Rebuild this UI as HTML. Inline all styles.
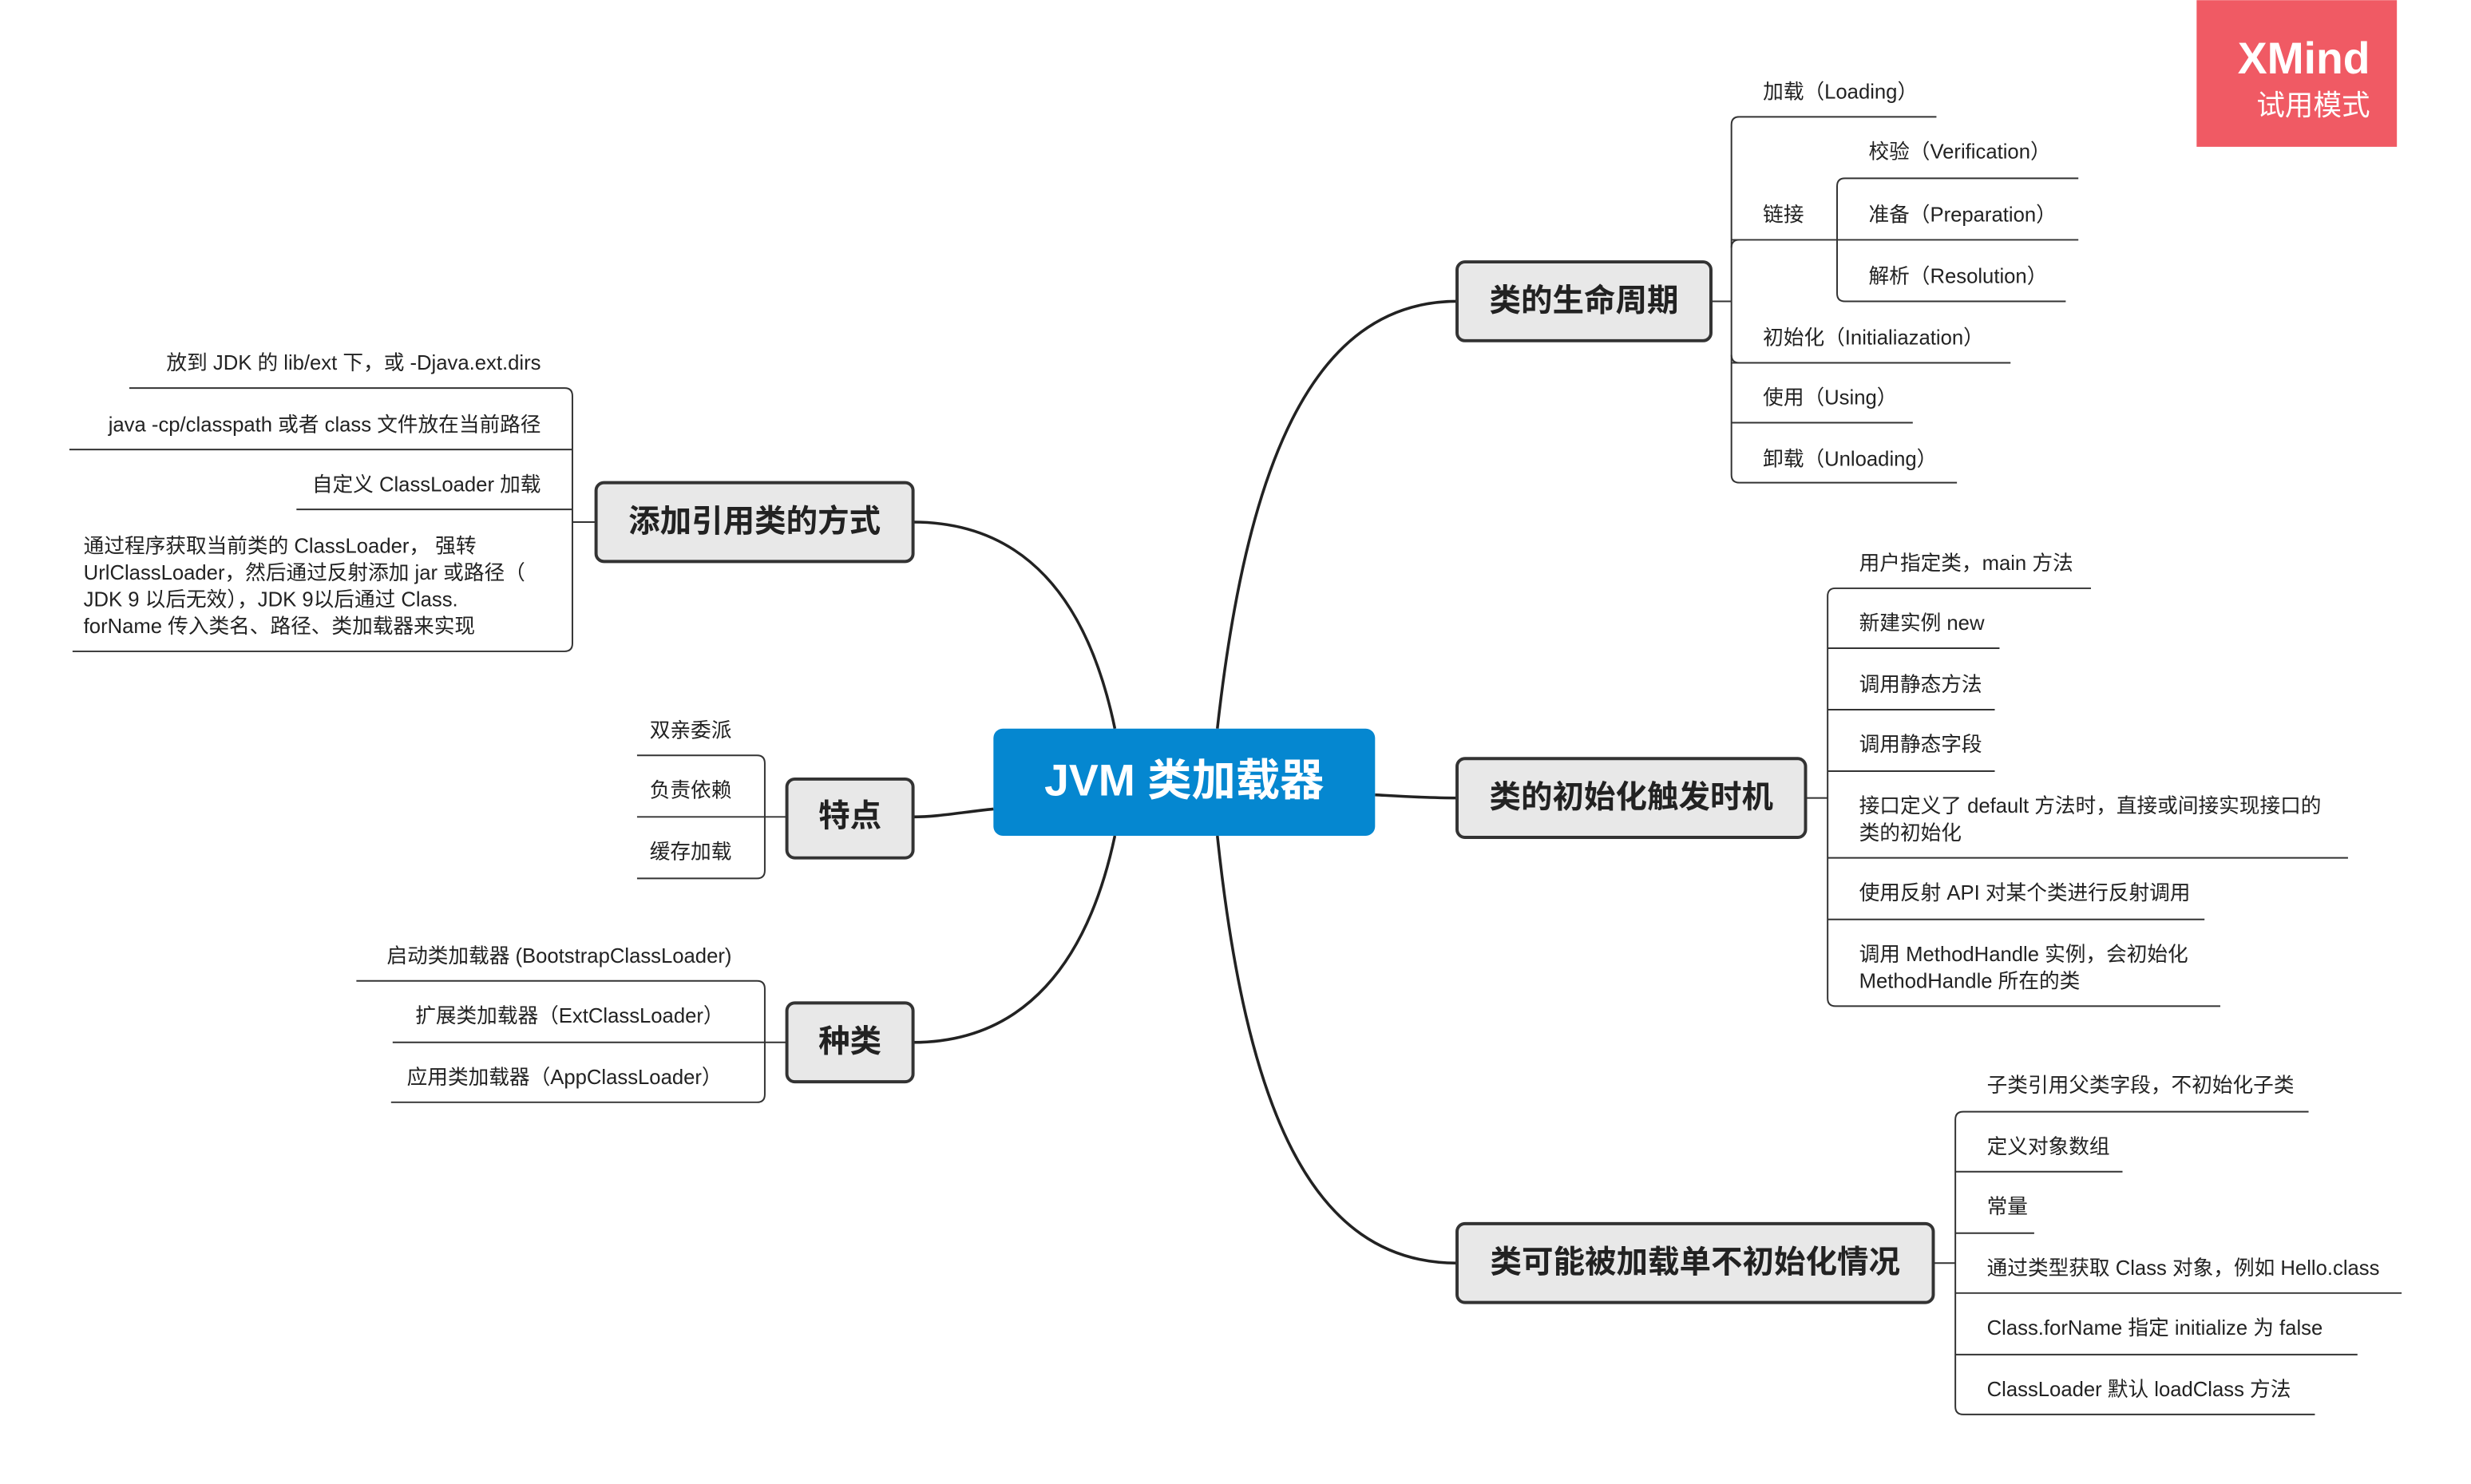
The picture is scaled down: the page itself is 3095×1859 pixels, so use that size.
<!DOCTYPE html>
<html><head><meta charset="utf-8"><style>
html,body{margin:0;padding:0;background:#fff;}
svg{display:block;}
text{font-family:"Liberation Sans","Noto Sans CJK SC",sans-serif;fill:#222;dominant-baseline:middle;}
.s{font-size:13px;}
.b{font-size:20px;font-weight:bold;text-anchor:middle;}
.l{stroke:#333;stroke-width:1;fill:none;}
.c{stroke:#222;stroke-width:1.8;fill:none;}
.n{fill:#e8e8e8;stroke:#333;stroke-width:2;}
.r{text-anchor:end;}
</style></head><body>
<svg width="3095" height="1859" viewBox="0 0 1567 941" xmlns="http://www.w3.org/2000/svg">
<path class="c" d="M772,462 C790,300 830,191 924,191"/>
<path class="c" d="M872,504 C890,505 905,506 924,506"/>
<path class="c" d="M772,530 C790,700 830,801 924,801"/>
<path class="c" d="M707,462 C690,380 650,331 579,331"/>
<path class="c" d="M630,513 C610,515 595,518 579,518"/>
<path class="c" d="M707,530 C690,610 650,661 579,661"/>

<rect x="630" y="462" width="242" height="68" rx="6" fill="#0587d0"/>
<text x="751" y="497" style="font-size:28px;font-weight:bold;fill:#fff;text-anchor:middle">JVM 类加载器</text>

<rect class="n" x="924" y="166" width="161" height="50" rx="5"/><text class="b" x="1004.5" y="192">类的生命周期</text>
<rect class="n" x="924" y="481" width="221" height="50" rx="5"/><text class="b" x="1034.5" y="507">类的初始化触发时机</text>
<rect class="n" x="924" y="776" width="302" height="50" rx="5"/><text class="b" x="1075" y="802">类可能被加载单不初始化情况</text>
<rect class="n" x="378" y="306" width="201" height="50" rx="5"/><text class="b" x="478.5" y="332">添加引用类的方式</text>
<rect class="n" x="499" y="494" width="80" height="50" rx="5"/><text class="b" x="539" y="519">特点</text>
<rect class="n" x="499" y="636" width="80" height="50" rx="5"/><text class="b" x="539" y="662">种类</text>

<path class="l" d="M1085,191 H1098 M1103,74 Q1098,74 1098,79 V301 Q1098,306 1103,306"/>
<path class="l" d="M1103,74 H1228 M1103,152 Q1098,152 1098,157 M1098,152 H1165 M1170,113 Q1165,113 1165,118 V186 Q1165,191 1170,191 M1170,113 H1318 M1165,152 H1318 M1170,191 H1310 M1103,230 Q1098,230 1098,225 M1098,230 H1275 M1098,268 H1213 M1103,306 H1241"/>
<text class="s" x="1118" y="59">加载（Loading）</text>
<text class="s" x="1118" y="137">链接</text>
<text class="s" x="1185" y="97">校验（Verification）</text>
<text class="s" x="1185" y="137">准备（Preparation）</text>
<text class="s" x="1185" y="176">解析（Resolution）</text>
<text class="s" x="1118" y="215">初始化（Initialiazation）</text>
<text class="s" x="1118" y="253">使用（Using）</text>
<text class="s" x="1118" y="292">卸载（Unloading）</text>

<path class="l" d="M1145,506 H1159 M1164,373 Q1159,373 1159,378 V633 Q1159,638 1164,638 M1164,373 H1326 M1159,411 H1268 M1159,450 H1265 M1159,489 H1265 M1159,544 H1489 M1159,583 H1398 M1164,638 H1408"/>
<text class="s" x="1179" y="358">用户指定类，main 方法</text>
<text class="s" x="1179" y="396">新建实例 new</text>
<text class="s" x="1179" y="435">调用静态方法</text>
<text class="s" x="1179" y="473">调用静态字段</text>
<text class="s" x="1179" y="512">接口定义了 default 方法时，直接或间接实现接口的</text>
<text class="s" x="1179" y="529">类的初始化</text>
<text class="s" x="1179" y="567">使用反射 API 对某个类进行反射调用</text>
<text class="s" x="1179" y="606">调用 MethodHandle 实例，会初始化</text>
<text class="s" x="1179" y="623">MethodHandle 所在的类</text>

<path class="l" d="M1226,801 H1240 M1245,705 Q1240,705 1240,710 V892 Q1240,897 1245,897 M1245,705 H1464 M1240,743 H1346 M1240,782 H1290 M1240,820 H1523 M1240,859 H1495 M1245,897 H1468"/>
<text class="s" x="1260" y="689">子类引用父类字段，不初始化子类</text>
<text class="s" x="1260" y="728">定义对象数组</text>
<text class="s" x="1260" y="766">常量</text>
<text class="s" x="1260" y="805">通过类型获取 Class 对象，例如 Hello.class</text>
<text class="s" x="1260" y="843">Class.forName 指定 initialize 为 false</text>
<text class="s" x="1260" y="882">ClassLoader 默认 loadClass 方法</text>

<path class="l" d="M378,331 H363 M358,246 Q363,246 363,251 V408 Q363,413 358,413 M82,246 H358 M44,285 H363 M188,323 H363 M46,413 H358"/>
<text class="s r" x="343" y="231">放到 JDK 的 lib/ext 下，或 -Djava.ext.dirs</text>
<text class="s r" x="343" y="270">java -cp/classpath 或者 class 文件放在当前路径</text>
<text class="s r" x="343" y="308">自定义 ClassLoader 加载</text>
<text class="s" x="53" y="347">通过程序获取当前类的 ClassLoader， 强转</text>
<text class="s" x="53" y="364">UrlClassLoader，然后通过反射添加 jar 或路径（</text>
<text class="s" x="53" y="381">JDK 9 以后无效），JDK  9以后通过 Class.</text>
<text class="s" x="53" y="398">forName 传入类名、路径、类加载器来实现</text>

<path class="l" d="M499,518 H485 M480,479 Q485,479 485,484 V552 Q485,557 480,557 M404,479 H480 M404,518 H485 M404,557 H480"/>
<text class="s" x="412" y="464">双亲委派</text>
<text class="s" x="412" y="502">负责依赖</text>
<text class="s" x="412" y="541">缓存加载</text>

<path class="l" d="M499,661 H485 M480,622 Q485,622 485,627 V694 Q485,699 480,699 M226,622 H480 M249,661 H485 M248,699 H480"/>
<text class="s r" x="464" y="607">启动类加载器 (BootstrapClassLoader)</text>
<text class="s r" x="459" y="645">扩展类加载器（ExtClassLoader）</text>
<text class="s r" x="458" y="684">应用类加载器（AppClassLoader）</text>

<rect x="1393" y="0" width="127" height="93" fill="#f05a64"/>
<text x="1503" y="39" style="font-size:28px;font-weight:bold;fill:#fff;text-anchor:end">XMind</text>
<text x="1503" y="68" style="font-size:18px;fill:#fff;text-anchor:end">试用模式</text>
</svg>
</body></html>
